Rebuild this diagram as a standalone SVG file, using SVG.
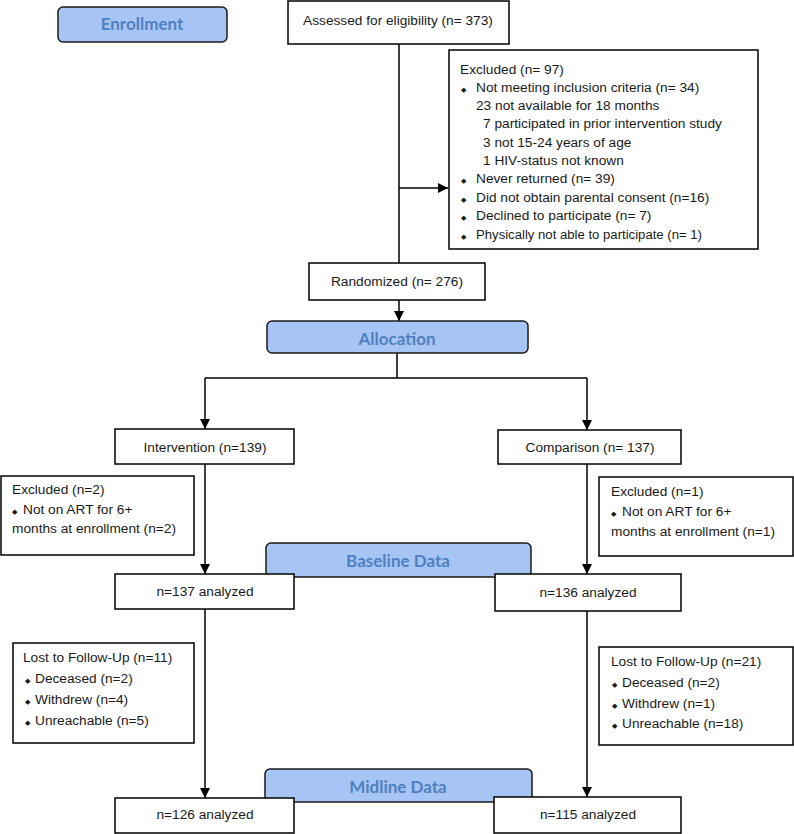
<svg xmlns="http://www.w3.org/2000/svg" width="794" height="834" viewBox="0 0 794 834">
<defs>
<marker id="ah" viewBox="0 0 10 10" refX="10" refY="5" markerWidth="10" markerHeight="10" markerUnits="userSpaceOnUse" orient="auto">
<path d="M0,0 L10,5 L0,10 z" fill="#000"/>
</marker>
</defs>
<style>
.box{fill:#fff;stroke:#000;stroke-width:1.5}
.stage{fill:#a6c5f4;stroke:#1a1a1a;stroke-width:1.5}
.st{font-family:Lato,"Open Sans",sans-serif;font-weight:bold;font-size:17px;fill:#5080c0;text-anchor:middle}
.t{font-family:"Liberation Sans",Arial,sans-serif;font-size:13.7px;fill:#1a1a1a}
.c{text-anchor:middle}
.b{font-size:7px}
.ln{stroke:#000;stroke-width:1.5;fill:none}
</style>
<rect width="794" height="834" fill="#fff"/>

<g id="enrollment">
<rect class="stage" x="58" y="7" width="169" height="35" rx="5"/>
<text class="st" x="142" y="30">Enrollment</text>
</g>

<g id="baseline">
<rect class="stage" x="266" y="543" width="265" height="34" rx="5"/>
<text class="st" x="398" y="567">Baseline Data</text>
</g>

<g id="midline">
<rect class="stage" x="265" y="769" width="267" height="33" rx="5"/>
<text class="st" x="398" y="793">Midline Data</text>
</g>

<g id="connectors">
<line class="ln" x1="399" y1="44" x2="399" y2="263"/>
<line class="ln" x1="399" y1="188" x2="448" y2="188" marker-end="url(#ah)"/>
<line class="ln" x1="399" y1="300" x2="399" y2="321" marker-end="url(#ah)"/>
<line class="ln" x1="397" y1="353" x2="397" y2="378"/>
<line class="ln" x1="205" y1="378" x2="587" y2="378"/>
<line class="ln" x1="205" y1="378" x2="205" y2="429" marker-end="url(#ah)"/>
<line class="ln" x1="587" y1="378" x2="587" y2="430" marker-end="url(#ah)"/>
<line class="ln" x1="205" y1="464" x2="205" y2="574" marker-end="url(#ah)"/>
<line class="ln" x1="587" y1="464" x2="587" y2="574" marker-end="url(#ah)"/>
<line class="ln" x1="205" y1="609" x2="205" y2="798" marker-end="url(#ah)"/>
<line class="ln" x1="587" y1="611" x2="587" y2="797" marker-end="url(#ah)"/>
</g>

<g id="assessed">
<rect class="box" x="288" y="1" width="221" height="43"/>
<text class="t c" x="398" y="25">Assessed for eligibility (n= 373)</text>
</g>

<g id="excluded-top">
<rect class="box" x="449" y="50" width="309" height="199"/>
<text class="t" x="460" y="74">Excluded (n= 97)</text>
<text class="t" x="461" y="92"><tspan class="b">◆</tspan><tspan x="476">Not meeting inclusion criteria (n= 34)</tspan></text>
<text class="t" x="476" y="110">23 not available for 18 months</text>
<text class="t" x="483" y="128">7 participated in prior intervention study</text>
<text class="t" x="483" y="147">3 not 15-24 years of age</text>
<text class="t" x="483" y="165">1 HIV-status not known</text>
<text class="t" x="461" y="183"><tspan class="b">◆</tspan><tspan x="476">Never returned (n= 39)</tspan></text>
<text class="t" x="461" y="202"><tspan class="b">◆</tspan><tspan x="476">Did not obtain parental consent (n=16)</tspan></text>
<text class="t" x="461" y="220"><tspan class="b">◆</tspan><tspan x="476">Declined to participate (n= 7)</tspan></text>
<text class="t" x="461" y="239"><tspan class="b">◆</tspan><tspan x="476" font-size="12.5" textLength="226" lengthAdjust="spacingAndGlyphs">Physically not able to participate (n= 1)</tspan></text>
</g>

<g id="randomized">
<rect class="box" x="309" y="263" width="176" height="37"/>
<text class="t c" x="397" y="286">Randomized (n= 276)</text>
</g>

<g id="allocation">
<rect class="stage" x="267" y="321" width="261" height="32" rx="5"/>
<text class="st" x="397" y="345">Allocation</text>
</g>

<g id="intervention">
<rect class="box" x="115" y="429" width="179" height="35"/>
<text class="t c" x="205" y="452">Intervention (n=139)</text>
</g>

<g id="comparison">
<rect class="box" x="498" y="430" width="183" height="34"/>
<text class="t c" x="590" y="452">Comparison (n= 137)</text>
</g>

<g id="excluded-left">
<rect class="box" x="1" y="476" width="193" height="79"/>
<text class="t" x="12" y="494">Excluded (n=2)</text>
<text class="t" x="12" y="514"><tspan class="b">◆</tspan><tspan x="23">Not on ART for 6+</tspan></text>
<text class="t" x="12" y="533">months at enrollment (n=2)</text>
</g>

<g id="excluded-right">
<rect class="box" x="599" y="477" width="194" height="79"/>
<text class="t" x="611" y="496">Excluded (n=1)</text>
<text class="t" x="611" y="516"><tspan class="b">◆</tspan><tspan x="622">Not on ART for 6+</tspan></text>
<text class="t" x="611" y="536">months at enrollment (n=1)</text>
</g>

<g id="analyzed-137">
<rect class="box" x="115" y="574" width="179" height="35"/>
<text class="t c" x="205" y="596">n=137 analyzed</text>
</g>

<g id="analyzed-136">
<rect class="box" x="495" y="574" width="186" height="37"/>
<text class="t c" x="588" y="597">n=136 analyzed</text>
</g>

<g id="lost-left">
<rect class="box" x="13" y="643" width="181" height="100"/>
<text class="t" x="23" y="662">Lost to Follow-Up (n=11)</text>
<text class="t" x="25" y="683"><tspan class="b">◆</tspan><tspan x="35">Deceased (n=2)</tspan></text>
<text class="t" x="25" y="704"><tspan class="b">◆</tspan><tspan x="35">Withdrew (n=4)</tspan></text>
<text class="t" x="25" y="725"><tspan class="b">◆</tspan><tspan x="35">Unreachable (n=5)</tspan></text>
</g>

<g id="lost-right">
<rect class="box" x="599" y="647" width="194" height="98"/>
<text class="t" x="611" y="666">Lost to Follow-Up (n=21)</text>
<text class="t" x="612" y="687"><tspan class="b">◆</tspan><tspan x="622">Deceased (n=2)</tspan></text>
<text class="t" x="612" y="708"><tspan class="b">◆</tspan><tspan x="622">Withdrew (n=1)</tspan></text>
<text class="t" x="612" y="728"><tspan class="b">◆</tspan><tspan x="622">Unreachable (n=18)</tspan></text>
</g>

<g id="analyzed-126">
<rect class="box" x="115" y="798" width="179" height="35"/>
<text class="t c" x="205" y="819">n=126 analyzed</text>
</g>

<g id="analyzed-115">
<rect class="box" x="494" y="797" width="187" height="36"/>
<text class="t c" x="588" y="819">n=115 analyzed</text>
</g>
</svg>
